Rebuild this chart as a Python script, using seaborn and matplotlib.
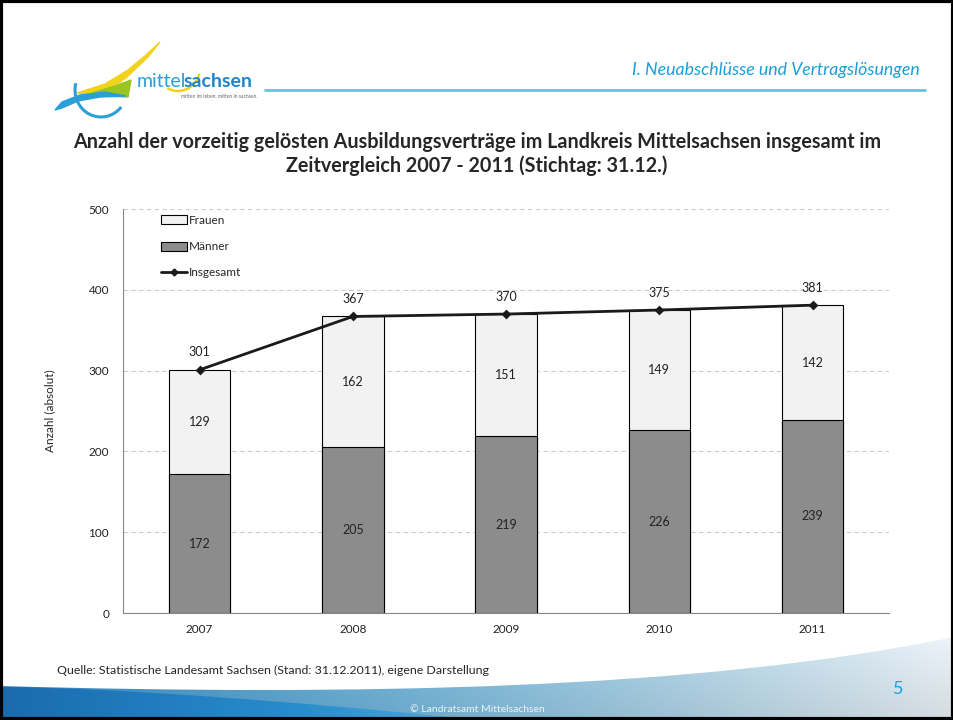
import numpy as np
import pandas as pd
import seaborn as sns
import matplotlib.pyplot as plt
from matplotlib.patches import Rectangle, Patch, Polygon, Arc, PathPatch
from matplotlib.path import Path
from matplotlib.lines import Line2D

years = ['2007', '2008', '2009', '2010', '2011']
maenner = [172, 205, 219, 226, 239]
frauen = [129, 162, 151, 149, 142]
insgesamt = [301, 367, 370, 375, 381]

sns.set_style('white')
plt.rcParams['font.family'] = ['Lato', 'DejaVu Sans']

df = pd.DataFrame({'Jahr': years, 'Maenner': maenner, 'Frauen': frauen, 'Insgesamt': insgesamt})
df['Summe'] = df['Maenner'] + df['Frauen']

fig = plt.figure(figsize=(9.54, 7.2), dpi=100)

# background layer in pixel coordinates
bg = fig.add_axes([0, 0, 1, 1], zorder=-5)
bg.set_xlim(0, 954)
bg.set_ylim(720, 0)
bg.axis('off')


def gradient_img(x0, x1, y0, y1, stops, dark_bottom=0.0):
    w, h = int(x1 - x0), int(y1 - y0)
    t = np.linspace(0, 1, w)
    pos = np.array([s[0] for s in stops])
    cols = np.array([s[1] for s in stops])
    row = np.stack([np.interp(t, pos, cols[:, k]) for k in range(3)], axis=-1)
    img = np.repeat(row[None, :, :], h, axis=0)
    v = np.linspace(0, 1, h)[:, None, None]
    img = img * (1 - dark_bottom * v)
    return np.clip(img, 0, 1)


def curve_patch(verts):
    codes = [Path.MOVETO, Path.CURVE4, Path.CURVE4, Path.CURVE4] + \
            [Path.LINETO] * (len(verts) - 5) + [Path.CLOSEPOLY]
    return PathPatch(Path(verts, codes), facecolor='none', edgecolor='none')


# bottom band
band = gradient_img(0, 954, 620, 720, [(0.0, (0.20, 0.56, 0.80)), (0.45, (0.50, 0.76, 0.90)),
                                       (0.75, (0.75, 0.88, 0.95)), (1.0, (0.95, 0.98, 1.0))], 0.12)
im1 = bg.imshow(band, extent=[0, 954, 720, 620], aspect='auto', zorder=0)
p1 = curve_patch([(0, 686), (350, 696), (700, 690), (954, 637), (954, 720), (0, 720), (0, 686)])
bg.add_patch(p1)
im1.set_clip_path(p1)

swoosh = gradient_img(0, 500, 680, 720, [(0.0, (0.10, 0.42, 0.68)), (0.6, (0.16, 0.55, 0.80)),
                                         (1.0, (0.35, 0.68, 0.87))])
im2 = bg.imshow(swoosh, extent=[0, 500, 720, 680], aspect='auto', zorder=1)
p2 = curve_patch([(0, 687), (120, 688), (300, 702), (480, 720), (0, 720), (0, 720), (0, 687)])
bg.add_patch(p2)
im2.set_clip_path(p2)

# logo (rough)
bg.add_patch(Arc((101, 90), 52, 54, theta1=40, theta2=195, color='#2a9fd8', lw=2.2))
bg.add_patch(Polygon([(77, 93), (105, 84), (128, 70), (146, 55), (160, 42), (148, 57),
                      (126, 78), (108, 90), (90, 95)], closed=True, color='#f0d31c'))
bg.add_patch(Arc((178, 68), 44, 46, theta1=15, theta2=118, color='#f0d31c', lw=1.8))
bg.add_patch(Polygon([(92, 93), (112, 87), (131, 80), (128, 97), (100, 96)],
                     closed=True, color='#9cc41e'))
bg.add_patch(Polygon([(55, 110), (62, 102), (80, 95), (105, 92), (126, 96), (100, 97),
                      (78, 101), (62, 108)], closed=True, color='#2a9fd8'))
bg.text(137, 87, 'mittel', fontsize=14, color='#2a9fd8', va='baseline')
bg.text(184, 87, 'sachsen', fontsize=14, color='#1f86c8', fontweight='bold', va='baseline')
bg.text(258, 97, 'mitten im leben. mitten in sachsen.', fontsize=3.6, color='#666666',
        ha='right', va='center')

# header
bg.plot([265, 925], [90, 90], color='#6cbfe0', lw=2)
bg.text(920, 70, 'I. Neuabschlüsse und Vertragslösungen', fontsize=12.8, style='italic',
        color='#1b9ed9', ha='right', va='center')

# title
bg.text(477, 142, 'Anzahl der vorzeitig gelösten Ausbildungsverträge im Landkreis Mittelsachsen insgesamt im',
        fontsize=14.2, fontweight='bold', ha='center', va='center')
bg.text(477, 166, 'Zeitvergleich 2007 - 2011 (Stichtag: 31.12.)',
        fontsize=14.2, fontweight='bold', ha='center', va='center')

# footer
bg.text(57, 670, 'Quelle: Statistische Landesamt Sachsen (Stand: 31.12.2011), eigene Darstellung',
        fontsize=8.9, va='center')
bg.text(893, 689, '5', fontsize=13, color='#1b9ed9', va='center')
bg.text(477, 710, '© Landratsamt Mittelsachsen', fontsize=7.5, color='#e8f3fa', ha='center', va='center')

# slide border
bg.add_patch(Rectangle((1, 1), 952, 718, fill=False, edgecolor='black', lw=3, zorder=10))

# chart
ax = fig.add_axes([0.129, 0.1486, 0.803, 0.5611])
sns.barplot(data=df, x='Jahr', y='Summe', color='#f2f2f2', edgecolor='black', linewidth=0.8,
            width=0.4, saturation=1, ax=ax, zorder=2)
sns.barplot(data=df, x='Jahr', y='Maenner', color='#8c8c8c', edgecolor='black', linewidth=0.8,
            width=0.4, saturation=1, ax=ax, zorder=3)
sns.pointplot(data=df, x='Jahr', y='Insgesamt', color='#1a1a1a', markers='D', markersize=3.5,
              linewidth=2, ax=ax, zorder=4)

for i in range(len(years)):
    ax.text(i, maenner[i] / 2, str(maenner[i]), ha='center', va='center', fontsize=9,
            color='#222222', zorder=5)
    ax.text(i, maenner[i] + frauen[i] / 2, str(frauen[i]), ha='center', va='center', fontsize=9,
            color='#222222', zorder=5)
    ax.text(i, insgesamt[i] + 14, str(insgesamt[i]), ha='center', va='bottom', fontsize=9,
            color='#222222', zorder=5)

ax.set_xlim(-0.5, 4.5)
ax.set_ylim(0, 500)
ax.set_yticks(range(0, 501, 100))
ax.yaxis.grid(True, linestyle=(0, (4, 3)), color='#cccccc', lw=0.8)
ax.set_axisbelow(True)
ax.set_xlabel('')
ax.set_ylabel('Anzahl (absolut)', fontsize=8.5, labelpad=24)
ax.tick_params(axis='both', labelsize=8.5, colors='#222222')
ax.tick_params(axis='y', length=4, color='#888888', pad=6)
ax.tick_params(axis='x', length=0, pad=8)
ax.set_xticks(np.arange(-0.5, 5, 1), minor=True)
ax.tick_params(axis='x', which='minor', length=4, color='#888888', direction='in')
for s in ['top', 'right']:
    ax.spines[s].set_visible(False)
for s in ['left', 'bottom']:
    ax.spines[s].set_color('#888888')
    ax.spines[s].set_linewidth(0.8)

handles = [Patch(facecolor='#f2f2f2', edgecolor='black', linewidth=0.8),
           Patch(facecolor='#8c8c8c', edgecolor='black', linewidth=0.8),
           Line2D([], [], color='#1a1a1a', lw=2, marker='D', markersize=3.5)]
ax.legend(handles, ['Frauen', 'Männer', 'Insgesamt'], loc='upper left', bbox_to_anchor=(0.036, 1.012),
          frameon=False, fontsize=8.5, labelspacing=1.3, handlelength=2.2, handletextpad=0.1,
          handleheight=0.8)

fig.savefig('out.png', dpi=100)
